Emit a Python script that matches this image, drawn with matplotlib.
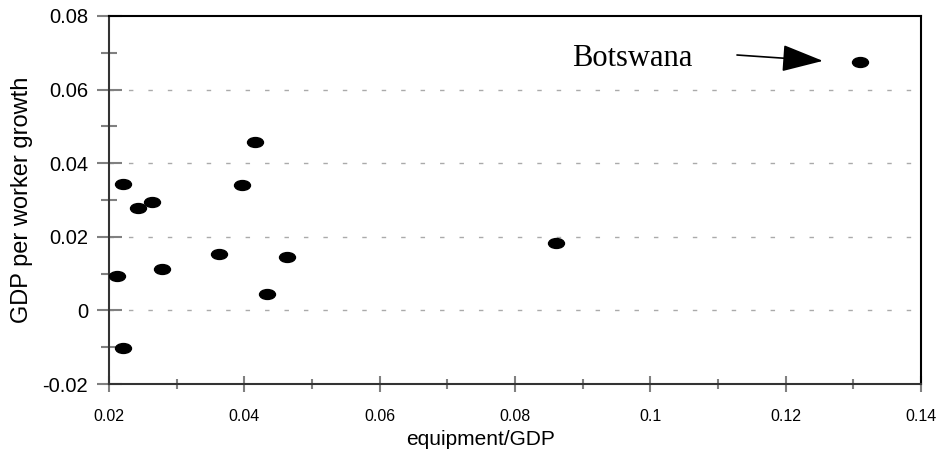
import numpy as np
import matplotlib
matplotlib.use('Agg')
import matplotlib.pyplot as plt
from matplotlib.path import Path
from matplotlib.transforms import Affine2D
from matplotlib.ticker import MultipleLocator, FuncFormatter

# Dane: udział wyposażenia w PKB vs wzrost PKB na pracownika
equipment_gdp = [0.0212, 0.0220, 0.0221, 0.0243, 0.0264, 0.0396, 0.0416,
                 0.0279, 0.0362, 0.0463, 0.0433, 0.0860, 0.1310]
gdp_growth = [0.0093, -0.0103, 0.0344, 0.0277, 0.0295, 0.0340, 0.0457,
              0.0113, 0.0152, 0.0144, 0.0044, 0.0182, 0.0675]

x_ticks = [0.02, 0.04, 0.06, 0.08, 0.1, 0.12, 0.14]
y_ticks = [-0.02, 0, 0.02, 0.04, 0.06, 0.08]
grid_levels = [0, 0.02, 0.04, 0.06]

# Eliptyczny znacznik (szerszy niż wyższy)
ellipse = Path.unit_circle().transformed(Affine2D().scale(1.0, 0.62))

fig = plt.figure(figsize=(9.41, 4.61), dpi=100)
ax = fig.add_axes([0.1158, 0.167, 0.8630, 0.7983])

for g in grid_levels:
    ax.axhline(g, color='#aaaaaa', lw=1, ls=(0, (3.2, 10.8)), zorder=0)

ax.plot(equipment_gdp, gdp_growth, ls='none', marker=ellipse, ms=11.5,
        color='black', zorder=3)

ax.set_xlim(0.02, 0.14)
ax.set_ylim(-0.02, 0.08)
ax.xaxis.set_major_locator(MultipleLocator(0.02))
ax.xaxis.set_minor_locator(MultipleLocator(0.01))
ax.yaxis.set_major_locator(MultipleLocator(0.02))
ax.yaxis.set_minor_locator(MultipleLocator(0.01))


def fmt(v, pos):
    v = round(v, 4)
    if v == 0:
        return '0'
    return ('%g' % v)


ax.xaxis.set_major_formatter(FuncFormatter(fmt))
ax.yaxis.set_major_formatter(FuncFormatter(fmt))

ax.tick_params(axis='y', which='major', direction='inout', length=18, width=1.5,
               color='#808080', labelsize=14.5, pad=6)
ax.tick_params(axis='y', which='minor', direction='inout', length=11, width=1.5,
               color='#808080')
ax.tick_params(axis='x', which='major', direction='inout', length=11, width=1.5,
               color='#808080', labelsize=11.5, pad=12.5)
ax.tick_params(axis='x', which='minor', direction='inout', length=6.5, width=1.5,
               color='#808080')

for side in ['left', 'bottom', 'top', 'right']:
    ax.spines[side].set_linewidth(1.5)
ax.spines['left'].set_color('#333333')
ax.spines['bottom'].set_color('#333333')
ax.spines['top'].set_color('black')
ax.spines['right'].set_color('black')

for lab in ax.get_xticklabels() + ax.get_yticklabels():
    lab.set_fontfamily('Liberation Sans')

ax.set_xlabel('equipment/GDP', fontsize=15, family='Liberation Sans')
ax.xaxis.set_label_coords(0.457, -0.124)
ax.set_ylabel('GDP per worker growth', fontsize=17, family='Liberation Sans')
ax.yaxis.set_label_coords(-0.094, 0.5)

# Adnotacja Botswany
ax.text(0.0884, 0.0684, 'Botswana', family='Liberation Serif', fontsize=22,
        va='center', ha='left')
ax.annotate('', xy=(0.1255, 0.0678), xytext=(0.1128, 0.0694),
            arrowprops=dict(arrowstyle='-|>,head_length=2.6,head_width=0.85',
                            color='black', lw=1.2, shrinkA=0, shrinkB=0))

fig.savefig('out.png', dpi=100)
